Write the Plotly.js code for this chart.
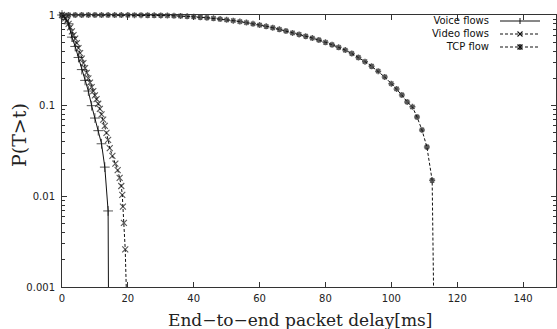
<!DOCTYPE html>
<html>
<head>
<meta charset="utf-8">
<script src="https://cdn.plot.ly/plotly-3.0.1.min.js"></script>
<style>html,body{margin:0;padding:0;background:#fff;}#chart{width:557px;height:329px;}</style>
</head>
<body>
<div id="chart"></div>
<script>
// Voice flows
var voiceX = [0, 1, 2, 3, 4, 5, 6, 7, 8, 9, 10, 11, 12, 13, 14, 14.15];
var voiceY = [1, 0.93, 0.8, 0.57, 0.45, 0.34, 0.25, 0.19, 0.145, 0.1, 0.073, 0.053, 0.038, 0.021, 0.0069, 0.0004];

// Video flows
var videoX = [0, 0.5, 1, 1.5, 2, 2.5, 3, 3.5, 4, 4.5, 5, 5.5, 6, 6.5, 7, 7.5, 8, 8.5, 9, 9.5,
  10, 10.5, 11, 11.5, 12, 12.5, 13, 13.5, 14, 14.5, 15.3, 16.2, 16.9, 17.5, 18.0, 18.3, 18.5, 18.8, 19.2, 19.8];
var videoY = [1, 0.97, 0.92, 0.86, 0.8, 0.73, 0.66, 0.6, 0.55, 0.49, 0.43, 0.38, 0.33, 0.295, 0.26, 0.23, 0.2, 0.18, 0.16, 0.145,
  0.13, 0.118, 0.105, 0.092, 0.08, 0.07, 0.06, 0.05, 0.042, 0.034, 0.028, 0.023, 0.0195, 0.016, 0.013, 0.0104, 0.0077, 0.0051, 0.0026, 0.0004];

// TCP flow
var tcpX = [0, 2, 4, 6, 8, 10, 12, 14, 16, 18, 20, 22, 24, 26, 28, 30, 32, 34, 36, 38,
  40, 42, 44, 46, 48, 50, 52, 54, 56, 58, 60, 62, 64, 66, 68, 70, 72, 74, 76, 78,
  80, 82, 84, 86, 88, 90, 92, 94, 96, 98, 100, 101.6, 103.2, 104.8, 106.4, 107.8, 109.3, 110.8, 112.4, 113.0];
var tcpY = [1, 1, 1, 1, 1, 1, 0.999, 0.999, 0.998, 0.998, 0.997, 0.996, 0.995, 0.993, 0.991, 0.989, 0.985, 0.98, 0.975, 0.966,
  0.955, 0.944, 0.932, 0.918, 0.902, 0.885, 0.866, 0.846, 0.824, 0.8, 0.775, 0.75, 0.723, 0.695, 0.666, 0.635, 0.61, 0.583, 0.557, 0.53,
  0.5, 0.47, 0.44, 0.41, 0.376, 0.34, 0.306, 0.272, 0.24, 0.207, 0.175, 0.153, 0.131, 0.11, 0.097, 0.075, 0.054, 0.035, 0.015, 0.0003];

var seriesNames = ['Voice flows', 'Video flows', 'TCP flow'];
var xTicks = [0, 20, 40, 60, 80, 100, 120, 140];
var yTickVals = [0.001, 0.01, 0.1, 1];
var yTickText = ['0.001', '0.01', '0.1', '1'];
var xTitle = 'End\u2212to\u2212end packet delay[ms]';
var yTitle = 'P(T>t)';

// layout helpers (pixel -> paper coordinates of the plot area)
var M = {l: 62, r: 1, t: 15, b: 42};
var PW = 557 - M.l - M.r, PH = 329 - M.t - M.b;
function pxX(p) { return (p - M.l) / PW; }
function pxY(p) { return (329 - M.b - p) / PH; }

function sizes(arr, s) { return arr.map(function (v) { return v < 0.001 ? 0 : s; }); }

var INK = '#111';
var traces = [
  {
    x: voiceX, y: voiceY, name: seriesNames[0], type: 'scatter', mode: 'lines+markers',
    cliponaxis: false,
    line: {color: INK, width: 1},
    marker: {symbol: 'cross-thin-open', size: sizes(voiceY, 7), color: INK, line: {width: 1, color: INK}}
  },
  {
    x: videoX, y: videoY, name: seriesNames[1], type: 'scatter', mode: 'lines+markers',
    cliponaxis: false,
    line: {color: INK, width: 1, dash: '3px,2px'},
    marker: {symbol: 'x-thin-open', size: sizes(videoY, 6), color: INK, line: {width: 1.1, color: INK}}
  },
  {
    x: tcpX, y: tcpY, name: seriesNames[2], type: 'scatter', mode: 'lines+markers',
    cliponaxis: false,
    line: {color: INK, width: 1, dash: '3px,2px'},
    marker: {symbol: 'asterisk-open', size: sizes(tcpY, 5), color: INK, line: {width: 1.5, color: INK}}
  }
];

// custom gnuplot-style legend: text block right-aligned, samples on the right
var legFont = 10;
var legGap = legFont * 1.3;           // Plotly line spacing
var legCenter = 34;
var legRows = [legCenter - legGap, legCenter, legCenter + legGap];
var legTextRight = 491, legL = 500, legR = 540, legMid = 520;
var shapes = [], annotations = [];
annotations.push({
  xref: 'paper', yref: 'paper', x: pxX(legTextRight), y: pxY(legCenter), xanchor: 'right', yanchor: 'middle',
  text: seriesNames.join('<br>'), showarrow: false, align: 'right',
  font: {family: 'DejaVu Sans, Liberation Sans, sans-serif', size: legFont, color: INK}
});
legRows.forEach(function (yy, i) {
  shapes.push({type: 'line', xref: 'paper', yref: 'paper', x0: pxX(legL), x1: pxX(legR), y0: pxY(yy), y1: pxY(yy),
    line: {color: INK, width: 1, dash: i === 0 ? 'solid' : '3px,2px'}});
});
function seg(x0, y0, x1, y1, w) {
  shapes.push({type: 'line', xref: 'paper', yref: 'paper', x0: pxX(x0), x1: pxX(x1), y0: pxY(y0), y1: pxY(y1),
    line: {color: INK, width: w}});
}
// voice "+"
seg(legMid, legRows[0] - 3, legMid, legRows[0] + 3, 1);
// video "x"
seg(legMid - 2.5, legRows[1] - 2.5, legMid + 2.5, legRows[1] + 2.5, 1.1);
seg(legMid - 2.5, legRows[1] + 2.5, legMid + 2.5, legRows[1] - 2.5, 1.1);
// tcp "*"
seg(legMid - 2.5, legRows[2] - 2.5, legMid + 2.5, legRows[2] + 2.5, 1.4);
seg(legMid - 2.5, legRows[2] + 2.5, legMid + 2.5, legRows[2] - 2.5, 1.4);
seg(legMid, legRows[2] - 3, legMid, legRows[2] + 3, 1.4);

// axis titles
annotations.push({
  xref: 'paper', yref: 'paper', x: pxX(300), y: pxY(320), xanchor: 'center', yanchor: 'middle',
  text: xTitle, showarrow: false,
  font: {family: 'DejaVu Serif, Liberation Serif, serif', size: 17, color: '#222'}
});
annotations.push({
  xref: 'paper', yref: 'paper', x: pxX(19), y: pxY(135), xanchor: 'center', yanchor: 'middle',
  text: yTitle, showarrow: false, textangle: -90,
  font: {family: 'DejaVu Serif, Liberation Serif, serif', size: 19, color: '#222'}
});

var tickFont = {family: 'DejaVu Sans, Liberation Sans, sans-serif', size: 10, color: '#222'};
var layout = {
  width: 557, height: 329,
  margin: M,
  paper_bgcolor: '#fff', plot_bgcolor: '#fff',
  showlegend: false,
  shapes: shapes,
  annotations: annotations,
  xaxis: {
    range: [0, 150], tickvals: xTicks, ticks: 'inside', ticklen: 5, tickcolor: '#333',
    mirror: 'allticks', showline: true, linecolor: '#333', linewidth: 1,
    showgrid: false, zeroline: false, tickfont: tickFont, ticklabelstandoff: 2
  },
  yaxis: {
    type: 'log', range: [-3, 0], tickvals: yTickVals, ticktext: yTickText,
    ticks: 'inside', ticklen: 5, tickcolor: '#333',
    minor: {ticks: 'inside', ticklen: 3, tickcolor: '#333', dtick: 'D1', showgrid: false},
    mirror: 'allticks', showline: true, linecolor: '#333', linewidth: 1,
    showgrid: false, zeroline: false, tickfont: tickFont, ticklabelstandoff: 4
  }
};

Plotly.newPlot('chart', traces, layout, {staticPlot: true, displayModeBar: false});
</script>
</body>
</html>
